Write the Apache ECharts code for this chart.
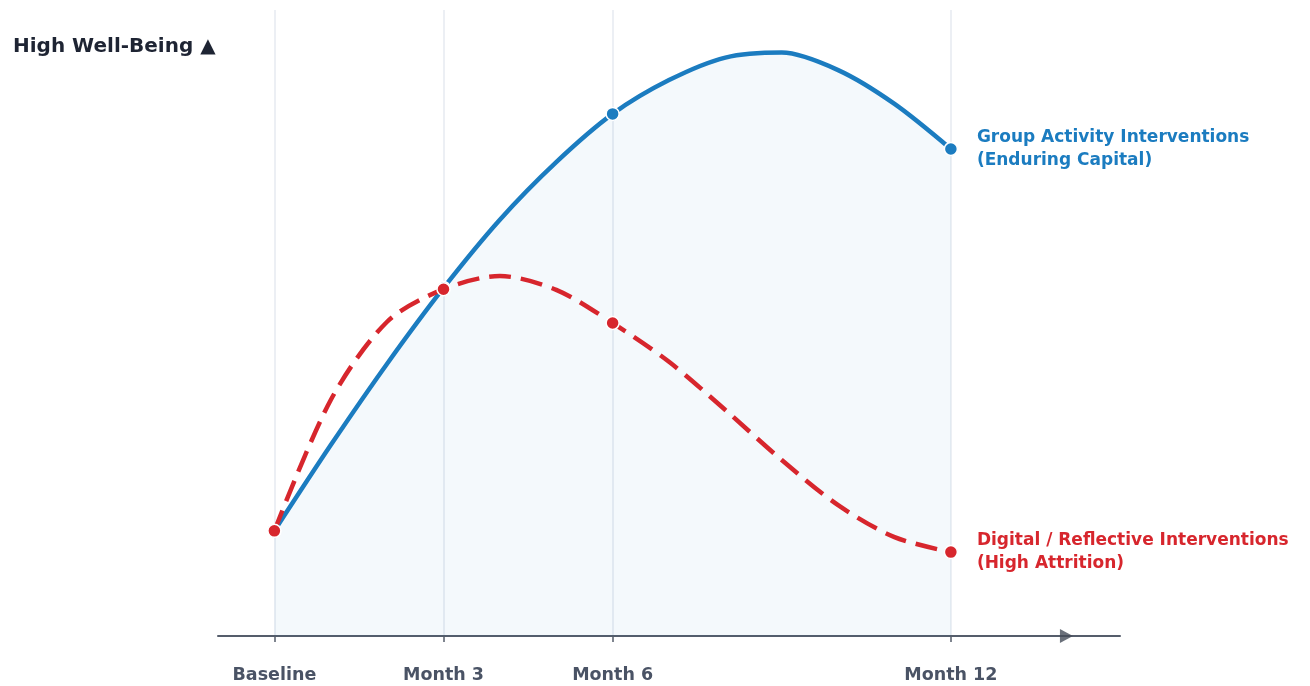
<!DOCTYPE html>
<html>
<head>
<meta charset="utf-8">
<title>Well-Being Trajectories</title>
<script src="https://cdn.jsdelivr.net/npm/echarts@6/dist/echarts.min.js"></script>
<style>
  html, body { margin: 0; padding: 0; background: #ffffff; }
  #chart { width: 1310px; height: 686px; }
</style>
</head>
<body>
<div id="chart"></div>
<script>
// Timeline in months since baseline
const months = [0, 1, 2, 3, 4, 5, 6, 7, 8, 9, 10, 11, 12];
// Well-being scores (0 = low, 100 = high)
const groupActivity = [16.8, 30.5, 43.5, 55.6, 66.5, 75.7, 83.4, 88.8, 92.4, 93.2, 90.4, 85.0, 77.8];
const digitalReflective = [16.8, 37.7, 50.2, 55.4, 57.5, 55.3, 50.0, 43.8, 36.1, 28.1, 20.9, 15.8, 13.4];
// Measurement points shown with markers and ticks
const checkpointMonths = [0, 3, 6, 12];
const checkpointLabels = ['Baseline', 'Month 3', 'Month 6', 'Month 12'];
const seriesNames = ['Group Activity Interventions\n(Enduring Capital)', 'Digital / Reflective Interventions\n(High Attrition)'];
const axisTitle = 'High Well-Being ▲';
const axisArrowMonth = 14.05;

const BLUE = '#1b7cc0';
const RED = '#d7262d';
const AXIS = '#555d6b';
const FONT = 'DejaVu Sans';

function points(values, color) {
  return months.map((m, i) => {
    const isCheckpoint = checkpointMonths.includes(m);
    return {
      value: [m, values[i]],
      symbol: isCheckpoint ? 'circle' : 'none',
      symbolSize: 13,
      itemStyle: { color: color, borderColor: '#ffffff', borderWidth: 1.5 }
    };
  });
}

function endLabel(color) {
  return {
    show: true,
    distance: 26,
    formatter: p => p.seriesName,
    fontFamily: FONT,
    fontSize: 17,
    fontWeight: 'bold',
    lineHeight: 23,
    color: color,
    align: 'left'
  };
}

const chart = echarts.init(document.getElementById('chart'), null, { renderer: 'canvas' });

chart.setOption({
  backgroundColor: '#ffffff',
  animation: false,
  title: {
    text: axisTitle,
    left: 8,
    top: 32,
    textStyle: { fontFamily: FONT, fontSize: 20, fontWeight: 'bold', color: '#1e2433' }
  },
  grid: { left: 218, right: 190, top: 10, bottom: 50 },
  xAxis: {
    type: 'value',
    min: -1,
    max: 15,
    splitLine: { show: false },
    axisLine: { show: true, lineStyle: { color: AXIS, width: 2 } },
    axisTick: {
      show: true,
      customValues: checkpointMonths,
      length: 6,
      lineStyle: { color: AXIS, width: 1.5 }
    },
    axisLabel: {
      show: true,
      customValues: checkpointMonths,
      margin: 30,
      fontFamily: FONT,
      fontSize: 17.5,
      fontWeight: 'bold',
      color: '#4a5365',
      formatter: v => checkpointLabels[checkpointMonths.indexOf(v)] || ''
    }
  },
  yAxis: {
    type: 'value',
    min: 0,
    max: 100,
    show: false,
    splitLine: { show: false }
  },
  series: [
    {
      // vertical guides at each checkpoint, kept beneath the curves
      type: 'line',
      silent: true,
      z: 0,
      data: [],
      markLine: {
        silent: true,
        z: 0,
        symbol: 'none',
        label: { show: false },
        lineStyle: { color: '#e6eaf0', width: 1.5, type: 'solid' },
        data: checkpointMonths.map(m => ({ xAxis: m }))
      }
    },
    {
      name: seriesNames[0],
      type: 'line',
      smooth: 0.3,
      z: 2,
      data: points(groupActivity, BLUE),
      lineStyle: { color: BLUE, width: 4.5 },
      itemStyle: { color: BLUE },
      areaStyle: { color: 'rgba(27,124,192,0.065)', origin: 'start' },
      endLabel: endLabel(BLUE)
    },
    {
      name: seriesNames[1],
      type: 'line',
      smooth: 0.3,
      z: 3,
      data: points(digitalReflective, RED),
      lineStyle: { color: RED, width: 4.5, type: [22, 10] },
      itemStyle: { color: RED },
      endLabel: endLabel(RED)
    },
    {
      // arrowhead on the time axis
      type: 'scatter',
      silent: true,
      clip: false,
      z: 4,
      symbol: 'triangle',
      symbolRotate: -90,
      symbolSize: [14, 13],
      itemStyle: { color: '#454c59' },
      data: [[axisArrowMonth, 0]]
    }
  ]
});
</script>
</body>
</html>
